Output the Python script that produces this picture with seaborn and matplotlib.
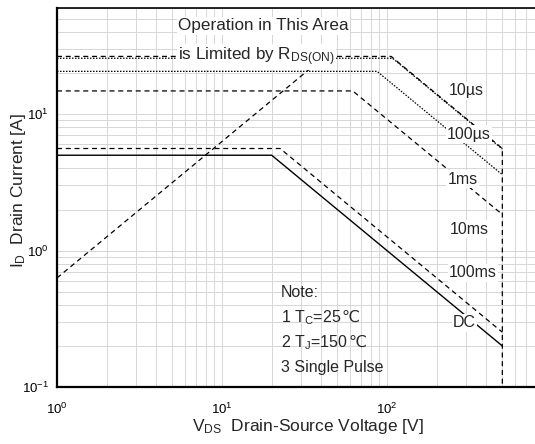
import matplotlib
matplotlib.use("Agg")
import matplotlib.pyplot as plt
import seaborn as sns
import pandas as pd
from matplotlib.ticker import LogLocator, NullFormatter

# ---- data ----
dc_v = [1, 20, 500]
dc_i = [5.0, 5.0, 0.2]
ms100_v = [1, 22.5, 500]
ms100_i = [5.6, 5.6, 0.252]
ms10_v = [1, 62, 500]
ms10_i = [14.8, 14.8, 1.84]
ms1_v = [1, 87, 500]
ms1_i = [20.6, 20.6, 3.6]
us100_v = [1, 108, 500]
us100_i = [25.7, 25.7, 5.55]
us10_v = [1, 106, 500, 500]
us10_i = [26.5, 26.5, 5.6, 0.1]
rds_v = [1, 42]
rds_i = [0.63, 26.5]

curve_labels = ["10\u00b5s", "100\u00b5s", "1ms", "10ms", "100ms", "DC"]
label_v = [238, 231, 234, 241, 238, 251]
label_i = [14.8, 7.13, 3.33, 1.43, 0.689, 0.296]

x_ticks = [1, 10, 100]
y_ticks = [0.1, 1, 10]

sns.set_style("white")
plt.rcParams['font.family'] = ['Liberation Sans', 'DejaVu Sans']
plt.rcParams['mathtext.fontset'] = 'custom'
plt.rcParams['mathtext.rm'] = 'Liberation Sans'
plt.rcParams['mathtext.it'] = 'Liberation Sans'
plt.rcParams['mathtext.bf'] = 'Liberation Sans:bold'

fig = plt.figure(figsize=(5.35, 4.44), dpi=100)
ax = fig.add_axes([57/535, 57/444, (552-57)/535, (387-8)/444])
ax.set_xscale('log')
ax.set_yscale('log')

def draw(v, i, ls, lw=0.9):
    df = pd.DataFrame({"V": v, "I": i})
    sns.lineplot(data=df, x="V", y="I", sort=False, estimator=None, ax=ax,
                 color='black', linestyle=ls, linewidth=lw, zorder=3)

dashed = (0, (4, 3))
dotted = (0, (1.2, 1.2))
draw(dc_v, dc_i, '-', 1.0)
draw(ms100_v, ms100_i, dashed)
draw(ms10_v, ms10_i, dashed)
draw(ms1_v, ms1_i, dotted)
draw(us100_v, us100_i, dotted)
draw(us10_v, us10_i, dashed)
draw(rds_v, rds_i, dashed)

ax.set_xlim(1, 1000)
ax.set_ylim(0.1, 60)

ax.xaxis.set_major_locator(LogLocator(base=10, subs=(1.0,)))
ax.yaxis.set_major_locator(LogLocator(base=10, subs=(1.0,)))
ax.xaxis.set_minor_locator(LogLocator(base=10, subs=range(2, 10)))
ax.yaxis.set_minor_locator(LogLocator(base=10, subs=range(2, 10)))
ax.xaxis.set_minor_formatter(NullFormatter())
ax.yaxis.set_minor_formatter(NullFormatter())
ax.set_xticks(x_ticks)
ax.set_yticks(y_ticks)

ax.grid(True, which='both', color='#d6d6d6', linewidth=0.7, zorder=0)
ax.set_axisbelow(True)
ax.tick_params(which='both', direction='in', labelsize=9.5, colors='black', pad=6)
ax.tick_params(which='major', length=6, width=1)
ax.tick_params(which='minor', length=4, width=1)
ax.tick_params(axis='x', which='both', length=0, pad=11)

for s in ['left', 'bottom']:
    ax.spines[s].set_linewidth(1.6)
    ax.spines[s].set_color('black')
ax.spines['top'].set_linewidth(1.2)
ax.spines['top'].set_color('black')
ax.spines['right'].set_visible(False)

ax.set_xlabel(r"V$_{\mathregular{DS}}$  Drain-Source Voltage [V]", fontsize=12.5)
ax.set_ylabel(r"I$_{\mathregular{D}}$  Drain Current [A]", fontsize=12.5)
ax.xaxis.set_label_coords((308-57)/(552-57), -(417-387)/379)
ax.yaxis.set_label_coords(-(57-28)/(552-57), (387-190)/379)

box = dict(facecolor='white', edgecolor='none', pad=1.0)
for lab, lv, li in zip(curve_labels, label_v, label_i):
    ax.text(lv, li, lab, fontsize=11.5, ha='left', va='center', bbox=box, zorder=5)

ax.text(5.41, 44.4, "Operation in This Area", fontsize=12.3, ha='left', va='center',
        bbox=box, zorder=5)
ax.text(5.41, 26.2, r"is Limited by R$_{\mathregular{DS(ON)}}$", fontsize=12.3, ha='left',
        va='center', bbox=box, zorder=5)

# notes (the Celsius sign is drawn as plain text right after the math part)
note_x = 22.8
ax.text(note_x, 0.491, "Note:", fontsize=11.5, ha='left', va='center', zorder=5)
ax.text(note_x, 0.138, "3 Single Pulse", fontsize=11.5, ha='left', va='center', zorder=5)
note_parts = [(r"1 T$_{\mathregular{C}}$=25", 0.300), (r"2 T$_{\mathregular{J}}$=150", 0.197)]
fig.canvas.draw()
renderer = fig.canvas.get_renderer()
for t, ni in note_parts:
    tx = ax.text(note_x, ni, t, fontsize=11.5, ha='left', va='baseline', zorder=5)
    w_px = tx.get_window_extent(renderer=renderer).width + 0.3
    ax.annotate("\u2103", xy=(note_x, ni), xytext=(w_px * 72 / fig.dpi, 0),
                textcoords='offset points', fontsize=11.5, ha='left', va='baseline',
                zorder=5)

fig.savefig("out.png", dpi=100)
